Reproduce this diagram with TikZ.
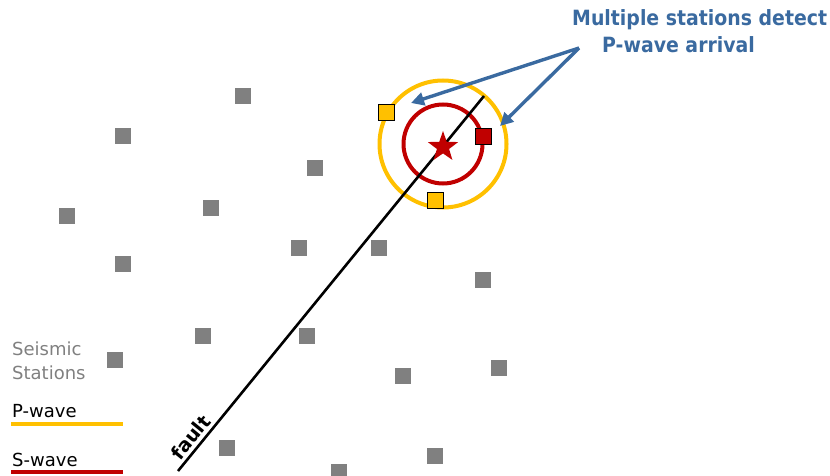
\documentclass[tikz,border=0pt]{standalone}
\usepackage{fontspec}
\setmainfont{DejaVu Sans}
\newfontfamily\headfont[FakeStretch=0.9]{DejaVu Sans}
\usetikzlibrary{arrows.meta,shapes.geometric}
\definecolor{stgray}{RGB}{128,128,128}
\definecolor{pyellow}{RGB}{255,192,0}
\definecolor{sred}{RGB}{192,0,0}
\definecolor{callblue}{RGB}{58,106,160}
\tikzset{
  station/.style={fill=stgray, draw=none, minimum size=16pt, inner sep=0pt, outer sep=0pt},
  hit/.style={draw=black, line width=0.8pt, minimum size=16pt, inner sep=0pt},
  pstation/.style={hit, fill=pyellow},
  sstation/.style={hit, fill=sred},
  callout/.style={draw=callblue, line width=3.4pt, -{Triangle[length=13pt,width=13pt]}},
  legtext/.style={anchor=base west, inner sep=0pt, font=\fontsize{18}{20}\selectfont},
  headtext/.style={anchor=base west, inner sep=0pt, text=callblue, font=\headfont\bfseries\fontsize{21}{24}\selectfont},
}
\begin{document}
\begin{tikzpicture}[x=1pt,y=-1pt]
\useasboundingbox (0,0) rectangle (830,476);
% grey stations
\foreach \n/\x/\y in {s1/243/96, s2/123/136, s3/315/168, s4/67/216, s5/211/208, s6/299/248,
  s7/123/264, s8/379/248, s9/483/280, s10/307/336, s11/403/376, s12/499/368, s13/435/456,
  s14/339/472, s15/203/336, s16/115/360, s17/227/448}
  \node[station] (\n) at (\x,\y) {};
% wave fronts
\node[draw=pyellow, line width=4pt, circle, minimum size=127pt, inner sep=0pt] (pwave) at (443,144) {};
\node[draw=sred, line width=4pt, circle, minimum size=79pt, inner sep=0pt] (swave) at (443,144) {};
% fault
\coordinate (faultA) at (178,471);
\coordinate (faultB) at (484,96);
\draw[line width=2.6pt] (faultA) -- (faultB)
  node[pos=0.07, sloped, above=3pt, inner sep=0pt, font=\bfseries\fontsize{19}{20}\selectfont] (faultlabel) {fault};
% epicentre
\node[star, star points=5, star point ratio=2.5, fill=sred, draw=none, minimum size=32pt, inner sep=0pt] (epi) at (443,147) {};
% stations that detect
\node[pstation] (p1) at (386,112) {};
\node[pstation] (p2) at (435,200) {};
\node[sstation] (r1) at (483,136) {};
% callout
\node[headtext] (head1) at (572,26) {Multiple stations detect};
\node[headtext] (head2) at (602,53) {P-wave arrival};
\coordinate (callsrc) at (579,48);
\coordinate (tipL) at (411,103);
\coordinate (tipR) at (500,126);
\draw[callout] (callsrc) -- (tipL);
\draw[callout] (callsrc) -- (tipR);
% legend
\node[legtext, text=stgray] (leg1) at (12,355) {Seismic};
\node[legtext, text=stgray] (leg2) at (12,379) {Stations};
\node[legtext] (leg3) at (12,417) {P-wave};
\node[legtext] (leg4) at (12,466) {S-wave};
\coordinate (py1) at (11,424); \coordinate (py2) at (123,424);
\coordinate (sr1) at (11,472); \coordinate (sr2) at (123,472);
\draw[pyellow, line width=4pt] (py1) -- (py2);
\draw[sred, line width=4pt] (sr1) -- (sr2);
\end{tikzpicture}
\end{document}
